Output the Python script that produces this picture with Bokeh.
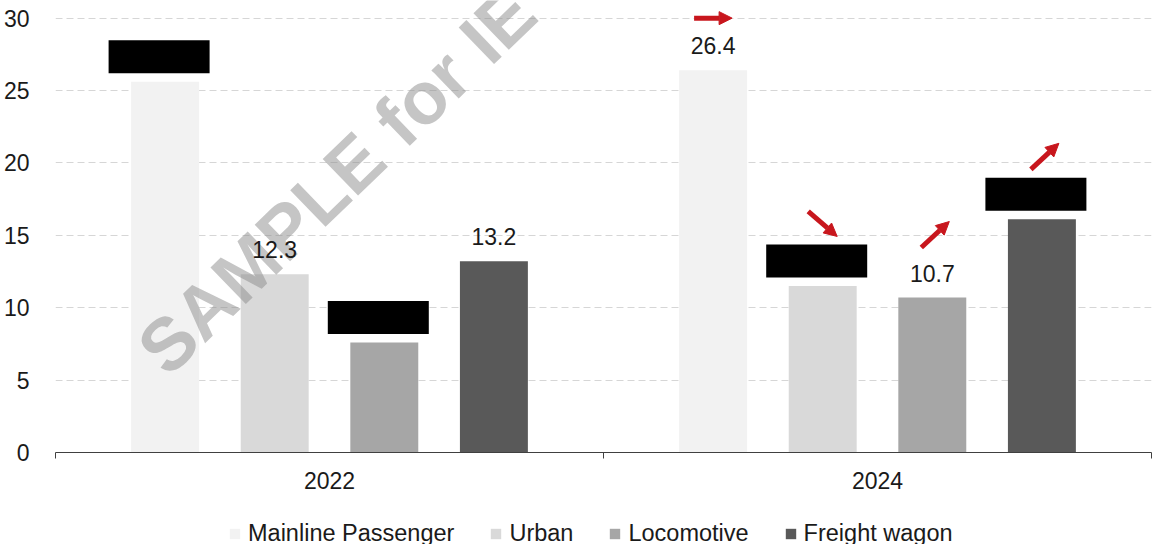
from bokeh.plotting import figure
from bokeh.layouts import column
from bokeh.models import (ColumnDataSource, FixedTicker, Range1d, Legend, LegendItem,
                          Arrow, NormalHead, LabelSet)
from bokeh.embed import file_html
from bokeh.resources import INLINE
from bokeh.core.properties import value

# --- data -------------------------------------------------------------
years = ["2022", "2024"]
segments = ["Mainline Passenger", "Urban", "Locomotive", "Freight wagon"]
values_2022 = [25.6, 12.3, 7.6, 13.2]
values_2024 = [26.4, 11.5, 10.7, 16.1]
# which bar values are printed (the others are covered by a black box)
shown_2022 = [False, True, False, True]
shown_2024 = [True, False, True, False]
# change direction marked above the 2024 bars
trend_2024 = ["flat", "down", "up", "up"]
y_ticks = [0, 5, 10, 15, 20, 25, 30]

# --- styling ----------------------------------------------------------
colors = ["#f2f2f2", "#d9d9d9", "#a6a6a6", "#595959"]
RED = "#c8161d"
FONT = "Liberation Sans"
TEXT = "#1a1a1a"

W, H = 1152, 544
LEG_H = 34                          # strip holding the legend
CH = H - LEG_H                      # chart figure height
LEFT, RIGHT, TOP, BOTTOM = 55, 1, 0, CH - 452
FRAME_W = W - LEFT - RIGHT
FRAME_H = CH - TOP - BOTTOM
Y_END = 30 * FRAME_H / (FRAME_H - 17.5)
PX_X = FRAME_W / len(years)         # pixels per group
PX_Y = FRAME_H / Y_END              # pixels per unit

offsets = [-0.3, -0.1, 0.1, 0.3]
BAR_W = 0.124

p = figure(width=W, height=CH, output_backend="svg", toolbar_location=None,
           x_range=Range1d(0, len(years)), y_range=Range1d(0, Y_END),
           min_border_left=LEFT, min_border_right=RIGHT,
           min_border_top=TOP, min_border_bottom=BOTTOM)
p.outline_line_color = None
p.background_fill_color = "white"
p.border_fill_color = "white"

# grid
p.xgrid.grid_line_color = None
p.ygrid.grid_line_color = "#d6d6d6"
p.ygrid.grid_line_dash = "7 4"
p.ygrid.grid_line_width = 1
p.ygrid.ticker = FixedTicker(ticks=y_ticks)

# y axis
p.yaxis.ticker = FixedTicker(ticks=y_ticks)
p.yaxis.axis_line_color = None
p.yaxis.major_tick_line_color = None
p.yaxis.minor_tick_line_color = None
p.yaxis.major_label_standoff = 20
p.yaxis.major_label_text_font = FONT
p.yaxis.major_label_text_font_size = "23px"
p.yaxis.major_label_text_color = TEXT

# x axis: group labels in the middle, separator ticks between groups
p.xaxis.ticker = FixedTicker(ticks=[i + 0.5 for i in range(len(years))],
                             minor_ticks=list(range(len(years) + 1)))
p.xaxis.major_label_overrides = {i + 0.5: y for i, y in enumerate(years)}
p.xaxis.axis_line_color = "#404040"
p.xaxis.axis_line_width = 1.2
p.xaxis.major_tick_line_color = None
p.xaxis.major_tick_out = 0
p.xaxis.minor_tick_line_color = "#404040"
p.xaxis.minor_tick_out = 6
p.xaxis.minor_tick_in = 0
p.xaxis.major_label_standoff = 13
p.xaxis.major_label_text_font = FONT
p.xaxis.major_label_text_font_size = "23px"
p.xaxis.major_label_text_color = TEXT

series = [values_2022, values_2024]
shown = [shown_2022, shown_2024]

# bars
lab_x, lab_y, lab_t = [], [], []
box_x, box_y = [], []
for i, seg in enumerate(segments):
    xs = [g + 0.5 + offsets[i] for g in range(len(years))]
    tops = [series[g][i] for g in range(len(years))]
    src = ColumnDataSource(dict(x=xs, top=tops))
    p.vbar(x="x", top="top", width=BAR_W, bottom=0, source=src,
           fill_color=colors[i], line_color=None)
    for g in range(len(years)):
        if shown[g][i]:
            lab_x.append(xs[g]); lab_y.append(tops[g]); lab_t.append(f"{tops[g]:.1f}")
        else:
            box_x.append(xs[g] - 6 / PX_X); box_y.append(tops[g] + 25 / PX_Y)

# watermark
p.text(x=[(150 - LEFT) / PX_X], y=[(FRAME_H - 360) / PX_Y], text=["SAMPLE for IE"],
       angle=44, angle_units="deg", text_font=value("Liberation Sans"),
       text_font_style="bold", text_font_size="74px", text_color="#8c8c8c",
       text_alpha=0.5, text_align="left", text_baseline="alphabetic")

# black boxes over unpublished values
p.rect(x=box_x, y=box_y, width=101, height=33, width_units="screen",
       height_units="screen", fill_color="black", line_color=None)

# value labels
lab_src = ColumnDataSource(dict(x=lab_x, y=lab_y, t=lab_t))
p.add_layout(LabelSet(x="x", y="y", text="t", source=lab_src, y_offset=16,
                      text_align="center", text_baseline="alphabetic",
                      text_font=value(FONT), text_font_size="23px",
                      text_color=TEXT))

# trend arrows above the 2024 bars
vec = {"flat": (38, 0), "up": (28, 26), "down": (29, -25)}
rise = {"flat": 52, "up": 63, "down": 62}
shift = {"flat": 0, "up": 3, "down": 0}
for i, tr in enumerate(trend_2024):
    cx = 1 + 0.5 + offsets[i] + shift[tr] / PX_X
    cy = values_2024[i] + rise[tr] / PX_Y
    dx, dy = vec[tr][0] / PX_X, vec[tr][1] / PX_Y
    p.add_layout(Arrow(end=NormalHead(size=13, fill_color=RED, line_color=RED, line_width=1),
                       line_color=RED, line_width=5,
                       x_start=cx - dx / 2, y_start=cy - dy / 2,
                       x_end=cx + dx / 2, y_end=cy + dy / 2))

# legend strip below the chart (its frame lines up with the chart frame)
lg = figure(width=W, height=LEG_H, output_backend="svg", toolbar_location=None,
            x_range=Range1d(0, 1), y_range=Range1d(0, 1),
            x_axis_location=None, y_axis_location=None,
            min_border_left=0, min_border_right=0,
            min_border_top=0, min_border_bottom=0)
lg.outline_line_color = None
lg.grid.visible = False
items = []
for i, seg in enumerate(segments):
    # zero-height swatch renderers: only their legend entries are seen
    r = lg.vbar(x=[0.5], top=[0], bottom=0, width=0.1,
                fill_color=colors[i], line_color=None)
    items.append(LegendItem(label=seg, renderers=[r]))
legend = Legend(items=items, orientation="horizontal", location=(230 - 57, -3),
                glyph_width=13, glyph_height=13, label_standoff=7, spacing=35,
                padding=0, margin=0, border_line_color=None,
                background_fill_alpha=0,
                label_text_font=FONT, label_text_font_size="23.5px",
                label_text_color=TEXT, label_height=26)
lg.add_layout(legend)

open("out.html", "w").write(file_html(column(p, lg, spacing=0), INLINE))
